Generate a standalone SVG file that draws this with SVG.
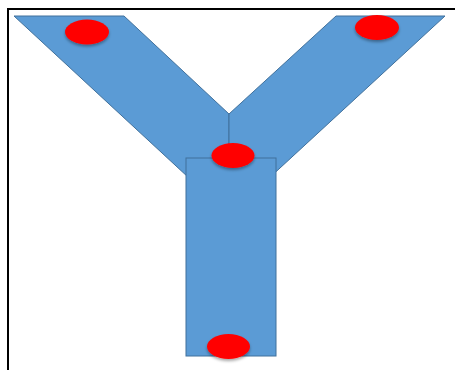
<svg xmlns="http://www.w3.org/2000/svg" width="455" height="370" viewBox="0 0 455 370">
  <style>
    .arm { fill: #5B9BD5; stroke: #41719C; stroke-width: 1; }
    .dot { fill: #FF0000; filter: url(#sh); }
    .frame { stroke: #000; stroke-width: 2; fill: none; }
  </style>
  <defs>
    <filter id="sh" x="-30%" y="-30%" width="160%" height="180%">
      <feGaussianBlur in="SourceAlpha" stdDeviation="1.5"/>
      <feOffset dy="2" result="b"/>
      <feFlood flood-color="#000" flood-opacity="0.35"/>
      <feComposite in2="b" operator="in"/>
      <feMerge><feMergeNode/><feMergeNode in="SourceGraphic"/></feMerge>
    </filter>
  </defs>
  <rect width="455" height="370" fill="#fff"/>
  <path class="frame" d="M8 370 V9 H455"/>
  <g id="left-arm"><polygon class="arm" points="14,16 124,16 229,114 229,215"/></g>
  <g id="right-arm"><polygon class="arm" points="445,16 336,16 229,114 229,215"/></g>
  <g id="stem"><rect class="arm" x="186" y="158" width="90" height="198"/></g>
  <g id="dots">
    <ellipse class="dot" cx="87" cy="32" rx="22" ry="12.5"/>
    <ellipse class="dot" cx="377" cy="27.5" rx="22" ry="12.5"/>
    <ellipse class="dot" cx="233" cy="155.5" rx="21.5" ry="12.5"/>
    <ellipse class="dot" cx="228.5" cy="346.5" rx="21.5" ry="12.5"/>
  </g>
</svg>
